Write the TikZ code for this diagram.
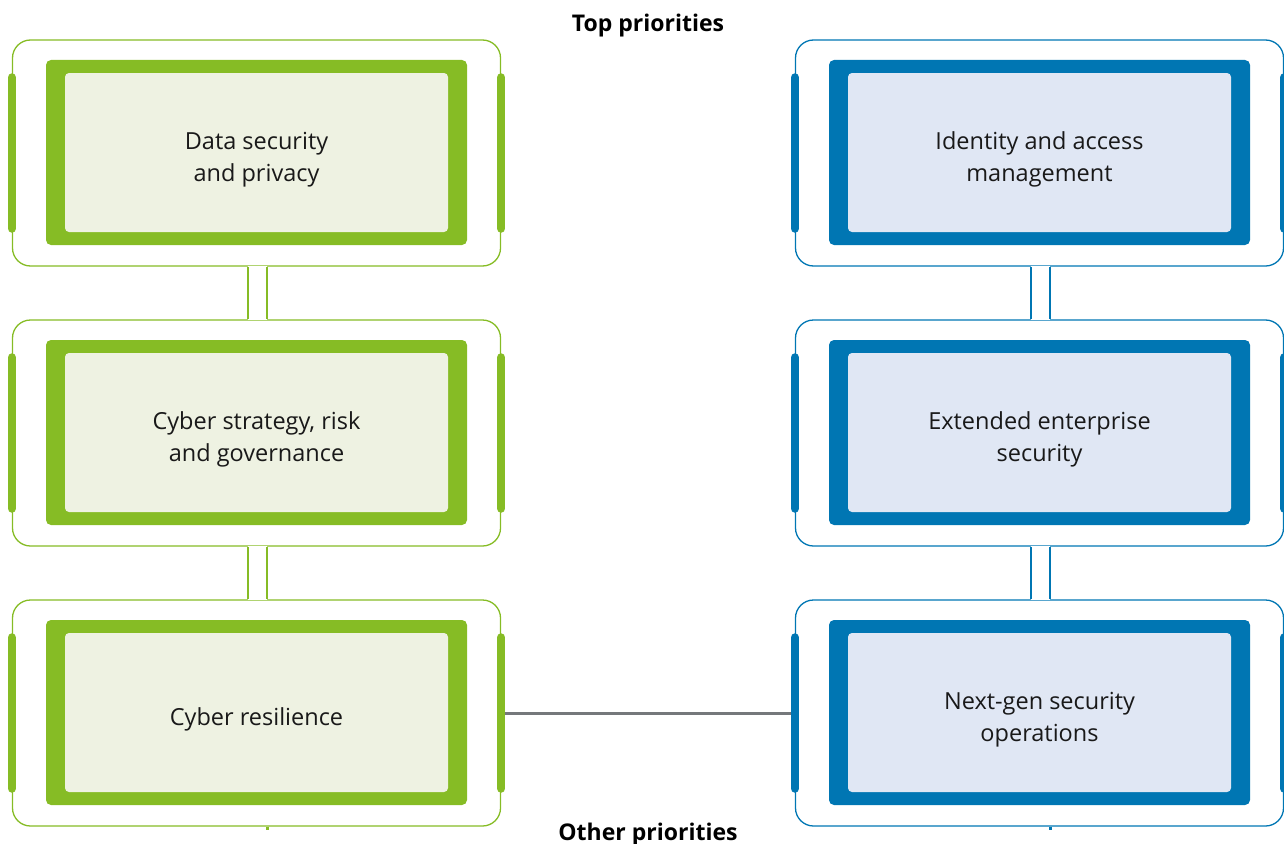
\documentclass[tikz,border=0pt]{standalone}
\usepackage{fontspec}
\setmainfont{Open Sans}
\usetikzlibrary{positioning}
\definecolor{cgreen}{HTML}{86BC25}
\definecolor{cgreenlight}{HTML}{EEF2E2}
\definecolor{cblue}{HTML}{0076B3}
\definecolor{cbluelight}{HTML}{E0E7F4}
\definecolor{cgray}{HTML}{75787B}
\begin{document}
\begin{tikzpicture}[x=1pt,y=-1pt,
	frame/.style={draw=#1,line width=1.3pt,rounded corners=18pt,minimum width=488pt,minimum height=226pt,inner sep=0pt},
	band/.style={fill=#1,rounded corners=5pt,minimum width=421pt,minimum height=185pt,inner sep=0pt},
	card/.style={fill=#1,rounded corners=4pt,minimum width=383pt,minimum height=159pt,inner sep=0pt},
	label/.style={align=center,text=black!90,font=\fontsize{23.5}{32}\selectfont},
	tab/.style={draw=#1,line width=8.5pt,line cap=round},
	title/.style={font=\fontsize{23}{27}\selectfont\bfseries,text=black}]
	\useasboundingbox (0,0) rectangle (1284,843);
	\node[title] (top) at (648,26) {Top priorities}; %上
	\node[title] (other) at (648,835) {Other priorities}; %下
	% left column
	\foreach \t/\y [count=\i] in {{Data security\\and privacy}/153,{Cyber strategy, risk\\and governance}/433,{Cyber resilience}/713}{
		\node[frame=cgreen] (L\i) at (256.5,\y) {};
		\node[band=cgreen] (Lb\i) at (256.5,\y-0.5) {};
		\node[card=cgreenlight] (Lc\i) at (Lb\i) {};
		\node[label] (Lt\i) at ([yshift=-7]Lc\i.center) {\t};
	}
	% right column
	\foreach \t/\y [count=\i] in {{Identity and access\\management}/153,{Extended enterprise\\security}/433,{Next-gen security\\operations}/713}{
		\node[frame=cblue] (R\i) at (1039.5,\y) {};
		\node[band=cblue] (Rb\i) at (1039.5,\y-0.5) {};
		\node[card=cbluelight] (Rc\i) at (Rb\i) {};
		\node[label] (Rt\i) at ([yshift=-7]Rc\i.center) {\t};
	}
	\draw[cgray,line width=3pt] (L3.east)--(R3.west);
	% connectors
	\foreach \a/\b/\c in {L1/L2/cgreen,L2/L3/cgreen,R1/R2/cblue,R2/R3/cblue}{
		\fill[white] ([xshift=-8.4,yshift=1]\a.south) rectangle ([xshift=10.4,yshift=-1]\b.north);
		\draw[\c,line width=1.3pt] ([xshift=-8.5]\a.south)--([xshift=-8.5]\b.north);
		\draw[\c,line width=1.3pt] ([xshift=10.5]\a.south)--([xshift=10.5]\b.north);
	}
	\draw[cgreen,line width=3pt] ([xshift=10.5]L3.south)--++(0,3);
	\draw[cblue,line width=3pt] ([xshift=10.5]R3.south)--++(0,3);
	% tabs
	\foreach \n/\c in {L1/cgreen,L2/cgreen,L3/cgreen,R1/cblue,R2/cblue,R3/cblue}{
		\draw[tab=\c] ([yshift=75.5]\n.west)--([yshift=-75.5]\n.west);
		\draw[tab=\c] ([yshift=75.5]\n.east)--([yshift=-75.5]\n.east);
	}
\end{tikzpicture}
\end{document}
